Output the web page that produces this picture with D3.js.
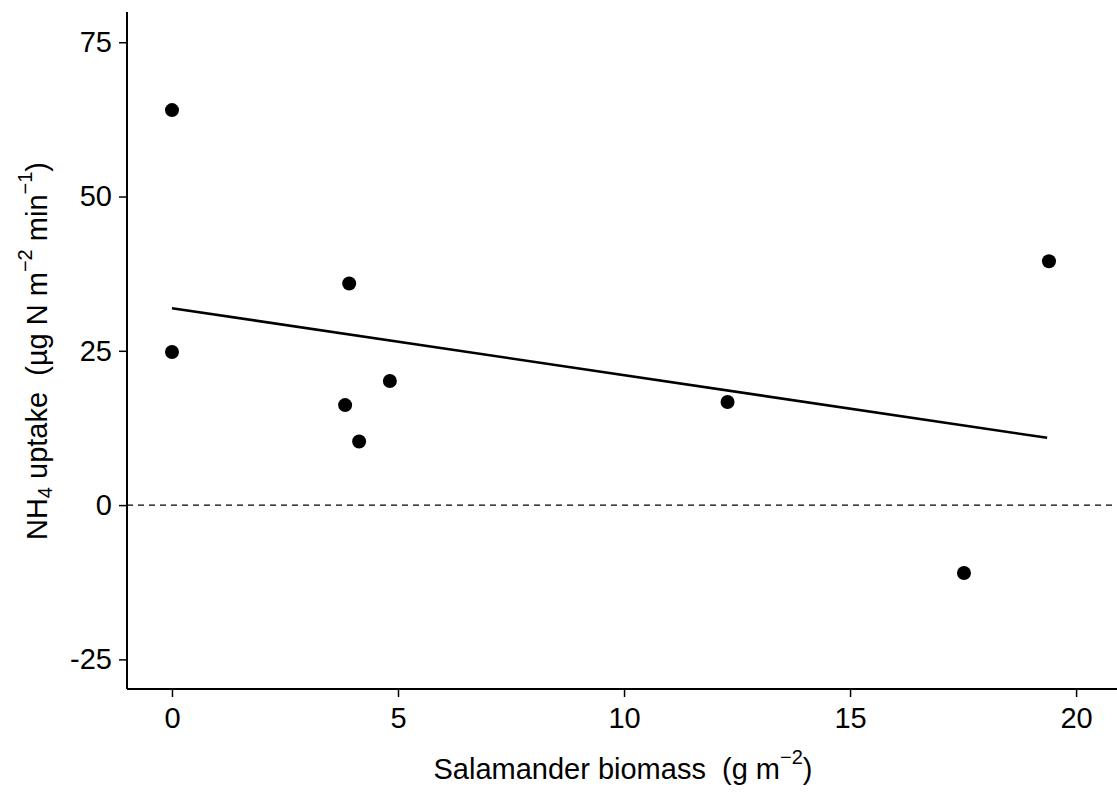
<!DOCTYPE html>
<html><head><meta charset="utf-8">
<script src="https://cdn.jsdelivr.net/npm/d3@7"></script>
<style>body{margin:0;background:#fff}svg text{font-family:"Liberation Sans",Arial,sans-serif;fill:#000}</style>
</head><body>
<svg id="c" width="1117" height="796"></svg>
<script>
const biomass = [0, 0, 3.92, 3.83, 4.14, 4.82, 12.29, 17.52, 19.40];
const uptake  = [64.0, 24.8, 35.9, 16.2, 10.3, 20.1, 16.7, -11.0, 39.5];
const fitX = [0, 19.36];
const fitY = [31.9, 10.9];
const xTicks = [0, 5, 10, 15, 20];
const yTicks = [-25, 0, 25, 50, 75];

const svg = d3.select("#c");
const pL = 127, pR = 1117, pT = 12, pB = 689;
const x = d3.scaleLinear().domain([-0.995, 20.905]).range([pL, pR]);
const y = d3.scaleLinear().domain([-29.8, 79.9]).range([pB, pT]);

// zero reference line
svg.append("line").attr("x1", pL).attr("x2", pR)
  .attr("y1", y(0)).attr("y2", y(0))
  .attr("stroke", "#000").attr("stroke-width", 1.4).attr("stroke-dasharray", "6,5");

// fitted line
const fit = fitX.map((v, i) => [v, fitY[i]]);
svg.append("path").datum(fit)
  .attr("d", d3.line().x(d => x(d[0])).y(d => y(d[1])))
  .attr("fill", "none").attr("stroke", "#000").attr("stroke-width", 2.6);

// points
svg.selectAll("circle.pt").data(biomass.map((b, i) => [b, uptake[i]]))
  .join("circle").attr("class", "pt")
  .attr("cx", d => x(d[0])).attr("cy", d => y(d[1])).attr("r", 7).attr("fill", "#000");

// axes
const xAxis = svg.append("g").attr("transform", `translate(0,${pB})`)
  .call(d3.axisBottom(x).tickValues(xTicks).tickSize(8).tickPadding(10).tickSizeOuter(0));
const yAxis = svg.append("g").attr("transform", `translate(${pL},0)`)
  .call(d3.axisLeft(y).tickValues(yTicks).tickSize(8).tickPadding(7).tickSizeOuter(0)
        .tickFormat(d => d < 0 ? "-" + Math.abs(d) : d));
[xAxis, yAxis].forEach(g => {
  g.select(".domain").attr("stroke", "#000").attr("stroke-width", 2);
  g.selectAll(".tick line").attr("stroke", "#000").attr("stroke-width", 1.5);
  g.selectAll(".tick text").style("font-size", "29px").attr("fill", "#000")
   .style("font-family", '"Liberation Sans",Arial,sans-serif');
});
xAxis.select(".domain").attr("d", `M${pL},0H${pR}`);
yAxis.select(".domain").attr("d", `M0,${pT}V${pB}`);

// x title
const xt = svg.append("text").attr("x", 623).attr("y", 779).attr("text-anchor", "middle")
  .style("font-size", "29px");
xt.append("tspan").text("Salamander biomass\u00a0\u00a0(g m");
xt.append("tspan").attr("dy", -15).style("font-size", "20px").text("−2");
xt.append("tspan").attr("dy", 15).text(")");

// y title
const yt = svg.append("text").attr("transform", "translate(47,351) rotate(-90)")
  .attr("text-anchor", "middle").style("font-size", "29px");
yt.append("tspan").text("NH");
yt.append("tspan").attr("dy", 5).style("font-size", "20px").text("4");
yt.append("tspan").attr("dy", -5).text(" uptake\u00a0\u00a0(µg N m");
yt.append("tspan").attr("dy", -15).style("font-size", "20px").text("−2");
yt.append("tspan").attr("dy", 15).text(" min");
yt.append("tspan").attr("dy", -15).style("font-size", "20px").text("−1");
yt.append("tspan").attr("dy", 15).text(")");
</script>
</body></html>
